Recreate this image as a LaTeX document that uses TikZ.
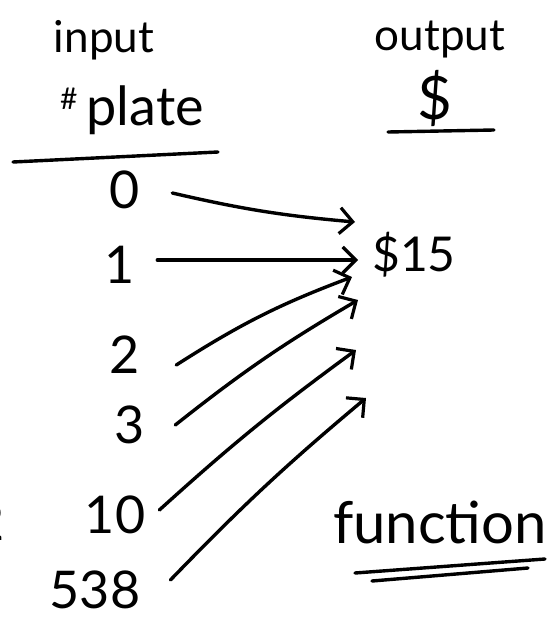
\documentclass[tikz,border=0pt]{standalone}
\usepackage{fontspec}
\setmainfont{Lato}
\usetikzlibrary{arrows.meta}

\begin{document}
\begin{tikzpicture}[
    x=1pt, y=-1pt,
    ink/.style={line width=3.4pt, line cap=round, line join=round},
    mapsto/.style={ink, -{Straight Barb[length=13pt, width=26pt, line width=3.2pt]}},
    numnode/.style={inner sep=0pt, font=\fontsize{52}{52}\selectfont},
    headnode/.style={inner sep=0pt, font=\fontsize{54}{54}\selectfont}
]
\useasboundingbox (0,0) rectangle (552,623);

% Column headings
\node[headnode, font=\fontsize{44}{44}\selectfont] (inword) at (104,40) {input};
\node[headnode] (inhead) at (132,110) {\raisebox{16pt}{\fontsize{30}{30}\selectfont\#}\,plate};
\node[headnode, font=\fontsize{44}{44}\selectfont] (outword) at (440,40) {output};
\node[headnode, font=\fontsize{60}{60}\selectfont] (outhead) at (435,98) {\$};
\draw[ink] (13,162) -- (218,152); % rule under input
\draw[ink] (388,132) -- (494,130); % rule under output

% Input values
\node[numnode] (n0) at (125,190) {0};
\node[numnode] (n1) at (120,265) {1};
\node[numnode] (n2) at (125,355) {2};
\node[numnode] (n3) at (130,425) {3};
\node[numnode] (n10) at (115,515) {10};
\node[numnode] (n538) at (95,590) {538};
\node[numnode] (cut) at (-10,522) {2}; % cut off at the edge

% Output value
\node[numnode, font=\fontsize{48}{48}\selectfont] (out) at (414,255) {\$15};

% Arrow tips below the output
\coordinate (t0) at (355,222);
\coordinate (t1) at (358,260);
\coordinate (t2) at (352,277);
\coordinate (t3) at (358,300);
\coordinate (t10) at (356,350);
\coordinate (t538) at (366,398);

% Arrows
\draw[mapsto] ([xshift=32pt,yshift=-3pt]n0.east) to[bend right=4] (t0);
\draw[mapsto] ([xshift=22pt,yshift=5pt]n1.east) -- (t1);
\draw[mapsto] ([xshift=36pt,yshift=-10pt]n2.east) to[bend left=6] (t2);
\draw[mapsto] ([xshift=30pt]n3.east) to[bend left=4] (t3);
\draw[mapsto] ([xshift=14pt,yshift=5pt]n10.east) to[bend left=3] (t10);
\draw[mapsto] ([xshift=30pt,yshift=10pt]n538.east) to[bend left=3] (t538);

% Label
\node[headnode, font=\fontsize{58}{58}\selectfont] (func) at (440,522) {function};
\draw[ink] (355,573) -- (545,559);
\draw[ink] (372,581) -- (528,568);

\end{tikzpicture}
\end{document}
